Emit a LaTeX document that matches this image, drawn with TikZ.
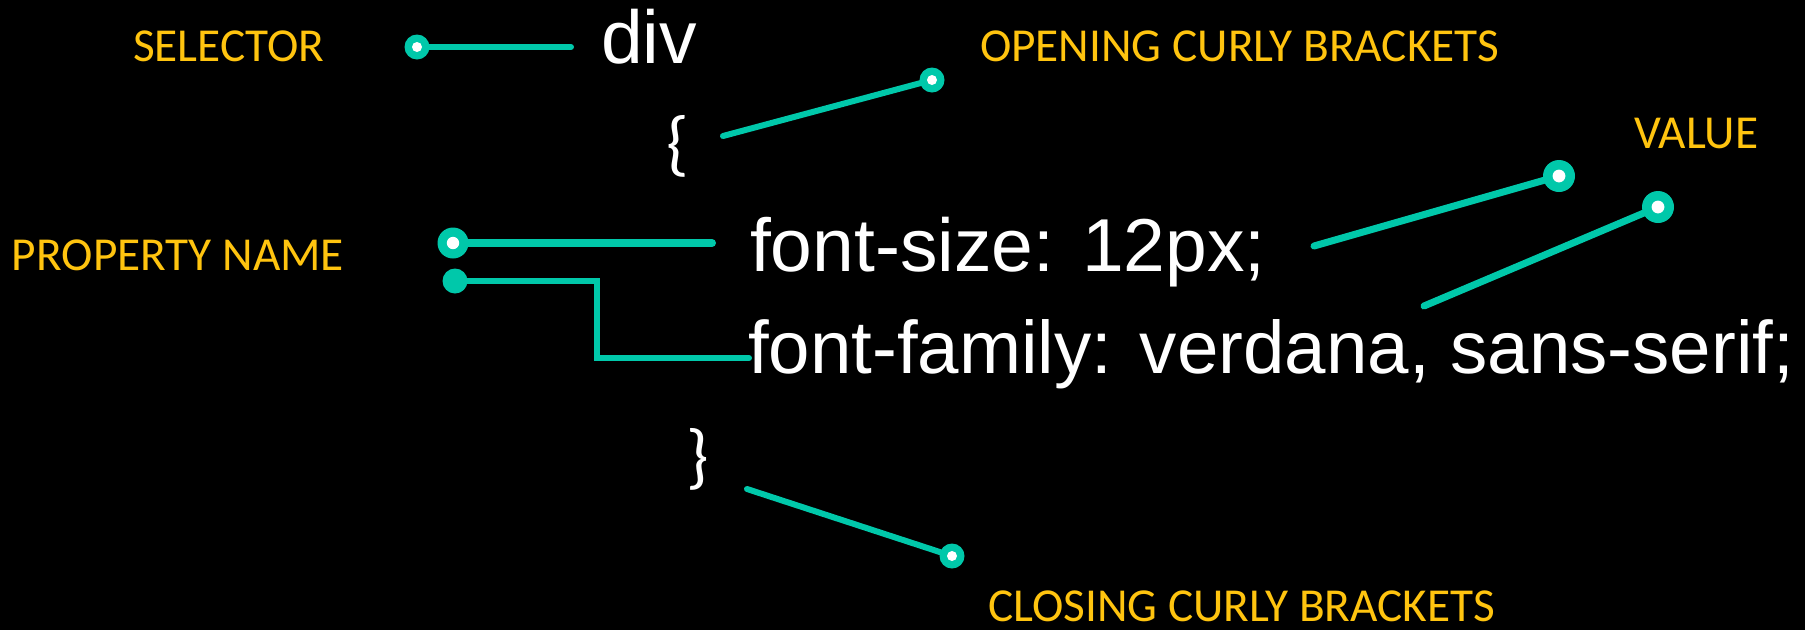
\documentclass[tikz,border=0pt]{standalone}
\usepackage{fontspec}
\setmainfont{Liberation Sans}
\newfontfamily\labfont{Carlito}
\definecolor{teal1}{HTML}{00C8AA}
\definecolor{gold1}{HTML}{FFC40F}
\begin{document}
\begin{tikzpicture}[x=1pt,y=-1pt,
  lab/.style={anchor=base west,inner sep=0pt,outer sep=0pt,text depth=0pt,text=gold1,font=\labfont\fontsize{47.3}{50}\selectfont},
  code/.style={anchor=base west,inner sep=0pt,outer sep=0pt,text=white,font=\fontsize{75}{90}\selectfont},
  brace/.style={anchor=center,inner sep=0pt,outer sep=0pt,text=white,font=\labfont\fontsize{72}{80}\selectfont},
  pin/.style={circle,fill=teal1,inner sep=0pt,outer sep=0pt,minimum size=#1,
    path picture={\fill[white] (path picture bounding box.center) circle (0.2*#1);}},
  solidpin/.style={circle,fill=teal1,inner sep=0pt,outer sep=0pt,minimum size=#1},
  conn/.style={draw=teal1,line width=#1,line cap=round,line join=miter},
  conn/.default=6pt]
\fill[black] (0,0) rectangle (1805,630);
\useasboundingbox (0,0) rectangle (1805,630);

% labels
\node[lab] (selL) at (133,61) {SELECTOR};
\node[lab] (openL) at (980,61) {OPENING CURLY BRACKETS};
\node[lab] (valL) at (1634,148) {VALUE};
\node[lab] (propL) at (12,270) {PROPERTY NAME};
\node[lab] (closeL) at (988,621) {CLOSING CURLY BRACKETS};

% code
\node[code] (div) at (601,63) {div};
\node[brace] (ob) at (678,146) {\{};
\node[code] (fs) at (750,271) {font-size: 12px;};
\node[code,font=\fontsize{74.5}{90}\selectfont] (ff) at (748,373) {font-family: verdana, sans-serif;};
\node[brace] (cb) at (698,459) {\}};

% line ends
\coordinate (selE) at (571,47);
\coordinate (openE) at (723,136);
\coordinate (propE) at (712,243);
\coordinate (prop2K1) at (597,281);
\coordinate (prop2K2) at (597,358);
\coordinate (prop2E) at (749,358);
\coordinate (val1E) at (1314,246);
\coordinate (val2E) at (1424,306);
\coordinate (closeE) at (747,489);

% connectors
\draw[conn=6pt] (417,47) coordinate (selC) -- (selE);
\draw[conn=6pt] (932,80) coordinate (openC) -- (openE);
\draw[conn=8pt] (453,243) coordinate (propC) -- (propE);
\draw[conn=6pt] (455,281) coordinate (prop2C) -- (prop2K1) -- (prop2K2) -- (prop2E);
\draw[conn=7pt] (1559,176) coordinate (val1C) -- (val1E);
\draw[conn=7pt] (1658,207) coordinate (val2C) -- (val2E);
\draw[conn=6pt] (952,556) coordinate (closeC) -- (closeE);

% pins
\node[pin=25pt] (selP) at (selC) {};
\node[pin=25pt] (openP) at (openC) {};
\node[pin=31pt] (propP) at (propC) {};
\node[solidpin=25pt] (prop2P) at (prop2C) {};
\node[pin=32pt] (val1P) at (val1C) {};
\node[pin=32pt] (val2P) at (val2C) {};
\node[pin=25pt] (closeP) at (closeC) {};
\end{tikzpicture}
\end{document}
